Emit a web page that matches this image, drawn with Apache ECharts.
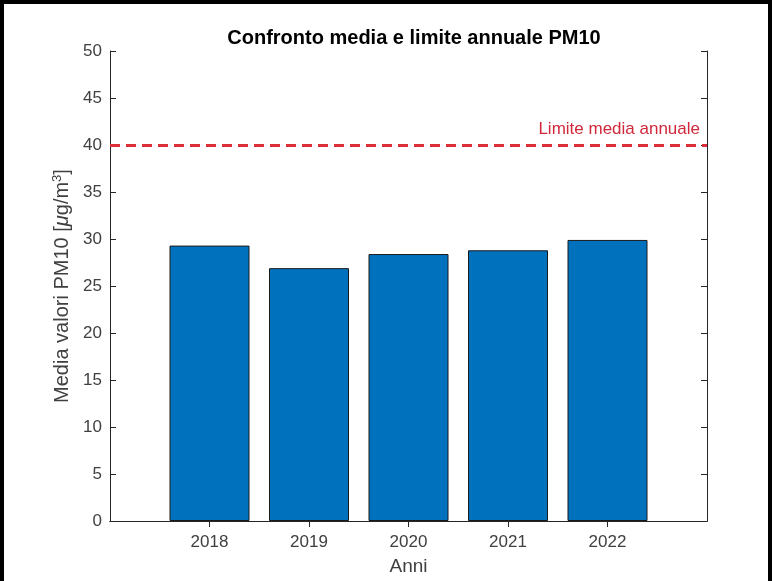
<!DOCTYPE html>
<html>
<head>
<meta charset="utf-8">
<script src="https://cdn.jsdelivr.net/npm/echarts@6/dist/echarts.min.js"></script>
<style>
	html, body { margin: 0; padding: 0; background: #fff; }
	#chartDiv { width: 772px; height: 581px; }
</style>
</head>
<body>
<div id="chartDiv"></div>
<script>
var anni = [2018, 2019, 2020, 2021, 2022];
var mediaPM10 = [29.3, 26.9, 28.4, 28.8, 29.9];
var limiteAnnuale = 40;
var yTicks = [0, 5, 10, 15, 20, 25, 30, 35, 40, 45, 50];

var axisColor = '#262626';
var labelColor = '#404040';
var fontName = 'Liberation Sans';

// coppie [anno, valore] per l'asse x numerico
var barData = [];
for (var i = 0; i < anni.length; i++) {
	barData.push([anni[i], mediaPM10[i]]);
}

var chart = echarts.init(document.getElementById('chartDiv'));

var option = {
	backgroundColor: '#fff',
	animation: false,
	title: {
		text: 'Confronto media e limite annuale PM10',
		left: 409,
		textAlign: 'center',
		top: 23,
		textStyle: { fontFamily: fontName, fontSize: 20, fontWeight: 'bold', color: '#000' }
	},
	grid: { left: 110, right: 65, top: 51, bottom: 58 },
	xAxis: [{
		type: 'value',
		min: 2017,
		max: 2023,
		name: 'Anni',
		nameLocation: 'middle',
		nameGap: 36,
		nameTextStyle: { fontFamily: fontName, fontSize: 19, color: labelColor },
		axisLine: { show: true, lineStyle: { color: axisColor, width: 1 } },
		axisTick: { inside: true, length: 6, customValues: anni, lineStyle: { color: axisColor } },
		axisLabel: {
			customValues: anni,
			margin: 13,
			fontFamily: fontName, fontSize: 17, color: labelColor,
			formatter: function(v) { return String(v); }
		},
		splitLine: { show: false }
	}, {
		type: 'value',
		position: 'top',
		min: 2017,
		max: 2023,
		axisLine: { show: true, lineStyle: { color: axisColor, width: 1 } },
		axisTick: { inside: true, length: 6, customValues: anni, lineStyle: { color: axisColor } },
		axisLabel: { show: false },
		splitLine: { show: false }
	}],
	yAxis: [{
		type: 'value',
		min: 0,
		max: 50,
		interval: 5,
		name: 'Media valori PM10 [{i|μ}g/m{sup|3}]',
		nameLocation: 'middle',
		nameGap: 36,
		nameTextStyle: {
			fontFamily: fontName, fontSize: 20, color: labelColor,
			rich: {
				i: { fontFamily: fontName, fontSize: 20, fontStyle: 'italic', color: labelColor },
				sup: { fontFamily: fontName, fontSize: 13, color: labelColor, verticalAlign: 'top', padding: [0, 0, 9, 0] }
			}
		},
		axisLine: { show: true, lineStyle: { color: axisColor, width: 1 } },
		axisTick: { inside: true, length: 6, lineStyle: { color: axisColor } },
		axisLabel: {
			margin: 8,
			fontFamily: fontName, fontSize: 17, color: labelColor,
			formatter: function(v) { return yTicks.indexOf(v) >= 0 ? String(v) : ''; }
		},
		splitLine: { show: false }
	}, {
		type: 'value',
		position: 'right',
		min: 0,
		max: 50,
		interval: 5,
		axisLine: { show: true, lineStyle: { color: axisColor, width: 1 } },
		axisTick: { inside: true, length: 6, lineStyle: { color: axisColor } },
		axisLabel: { show: false },
		splitLine: { show: false }
	}],
	series: [{
		type: 'bar',
		data: barData,
		barWidth: 80,
		itemStyle: { color: '#0072BD', borderColor: '#1a1a1a', borderWidth: 1 },
		markLine: {
			silent: true,
			symbol: ['none', 'none'],
			data: [{ yAxis: limiteAnnuale }],
			lineStyle: { color: '#dc2f3a', type: [10, 6], width: 3 },
			label: {
				show: true,
				position: 'insideEndTop',
				distance: [7, 7],
				formatter: 'Limite media annuale',
				fontFamily: fontName, fontSize: 17, color: '#d0283a'
			}
		}
	}],
	graphic: [{
		type: 'rect',
		silent: true,
		shape: { x: 2, y: 2, width: 768, height: 590 },
		style: { fill: 'none', stroke: '#000', lineWidth: 4 }
	}]
};

chart.setOption(option);
</script>
</body>
</html>
